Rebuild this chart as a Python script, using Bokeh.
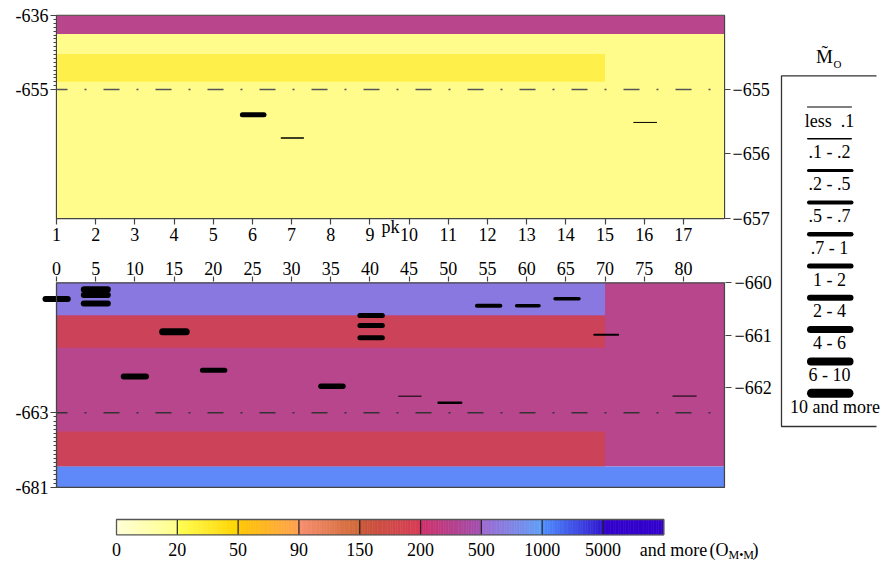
import numpy as np
from bokeh.plotting import figure
from bokeh.models import Range1d, LinearAxis, FixedTicker, Span
from bokeh.layouts import row, column
from bokeh.embed import file_html
from bokeh.resources import INLINE
from bokeh.core.properties import value

FONT = "Liberation Serif"
INK = "#444444"

# ---------------- upper section (chainage, pk) ----------------
pk_ticks = list(range(1, 18))
upper_x_end = 18.05
upper_left_ticks = [-653.85, -655.0]          # compressed part -636 .. -655
upper_left_labels = ["-636", "-655"]
upper_right_ticks = [-655.0, -656.0, -657.0]
upper_ref_level = -655.0

upper_band_x0 = [1.0, 1.0, 1.0]
upper_band_x1 = [18.05, 18.05, 15.0]
upper_band_top = [-653.85, -653.85, -654.445]
upper_band_bot = [-657.0, -654.134, -654.876]
upper_band_col = ["#FFFC8C", "#B9468C", "#FFEF4A"]

upper_bar_x0 = [5.68, 6.72, 15.72]
upper_bar_x1 = [6.36, 7.32, 16.33]
upper_bar_y = [-655.39, -655.75, -655.51]
upper_bar_w = [5.0, 1.5, 1.0]

# ---------------- lower section (distance 0..80) ----------------
lower_x_ticks = list(range(0, 85, 5))
lower_x_end = 85.25
lower_left_ticks = [-662.49, -663.92]         # compressed part -663 .. -681
lower_left_labels = ["-663", "-681"]
lower_right_ticks = [-660.0, -661.0, -662.0]
lower_ref_level = -662.49
lower_top, lower_bottom = -660.0, -663.92

lower_band_x0 = [0, 0, 0, 0, 0]
lower_band_x1 = [85.25, 70, 70, 70, 85.25]
lower_band_top = [-660.0, -660.0, -660.626, -662.85, -663.52]
lower_band_bot = [-663.52, -660.626, -661.245, -663.52, -663.92]
lower_band_col = ["#B8468C", "#8878E0", "#CC4258", "#CC4258", "#5F88F8"]

lower_bar_x0 = [-1.79, 3.1, 3.1, 3.1, 13.1, 8.2, 18.3, 33.4, 38.4, 38.4, 38.4,
                43.6, 48.6, 53.4, 58.5, 63.4, 68.5, 78.6]
lower_bar_x1 = [1.82, 6.93, 6.93, 6.93, 17.0, 11.8, 21.8, 36.9, 41.9, 41.9, 41.9,
                46.6, 51.8, 56.9, 61.8, 66.9, 71.8, 81.7]
lower_bar_y = [-660.31, -660.128, -660.234, -660.397, -660.939, -661.795, -661.674,
               -661.98, -660.626, -660.818, -661.054, -662.172, -662.30, -660.44,
               -660.44, -660.307, -660.996, -662.17]
lower_bar_w = [6, 6.5, 6, 6, 7, 6, 5, 5.5, 5, 5, 5, 1, 2.5, 4, 3.5, 3.5, 2, 1]

# ---------------- legend of line classes ----------------
legend_labels = ["less \u00a0.1", ".1 - .2", ".2 - .5", ".5 - .7", ".7 - 1",
                 "1 - 2", "2 - 4", "4 - 6", "6 - 10", "10 and more"]
legend_widths = [1, 1.5, 3, 4, 4.5, 5, 6, 7, 8, 9]

# ---------------- colour scale ----------------
cb_labels = ["0", "20", "50", "90", "150", "200", "500", "1000", "5000"]
cb_start = ["#FFFFD8", "#FFFF55", "#FFC800", "#F89070", "#C85838", "#D03068",
            "#A068D0", "#5090FF", "#3300CC"]
cb_end = ["#FFFF88", "#FFD400", "#FFA050", "#D06838", "#D83C58", "#A050B0",
          "#60A0F8", "#3018D0", "#3300CC"]

W_MAIN = 774


def base_fig(**kw):
    p = figure(output_backend="svg", toolbar_location=None, title=None, **kw)
    p.frame_align = False
    p.background_fill_color = "white"
    p.border_fill_color = "white"
    p.xgrid.visible = False
    p.ygrid.visible = False
    return p


def style_axis(ax, ticks, labels=None, minor=None, tick_out=6, standoff=2, line=True):
    ax.ticker = FixedTicker(ticks=ticks, minor_ticks=minor if minor is not None else [])
    if labels is not None:
        ax.major_label_overrides = {t: l for t, l in zip(ticks, labels)}
    ax.major_tick_out = tick_out
    ax.major_tick_in = 0
    ax.minor_tick_out = 3
    ax.minor_tick_in = 0
    ax.axis_line_color = INK if line else None
    ax.major_tick_line_color = INK
    ax.minor_tick_line_color = INK
    ax.major_tick_line_width = 1.2
    ax.major_label_text_font = FONT
    ax.major_label_text_font_size = "18px"
    ax.major_label_text_color = "black"
    ax.major_label_standoff = standoff


def hex2rgb(h):
    h = h.lstrip("#")
    return np.array([int(h[i:i + 2], 16) for i in (0, 2, 4)], dtype=float)


def rgb2hex(c):
    return "#%02x%02x%02x" % tuple(int(round(v)) for v in c)


def draw_bars(p, x0, x1, y, w, px_per_unit):
    cap = np.array(w, dtype=float) / 2 / px_per_unit
    p.segment(x0=list(np.array(x0) + cap), y0=y, x1=list(np.array(x1) - cap), y1=y,
              line_width=w, line_color="black", line_cap="round")


# ================= upper panel =================
TL, TR = 56, 50
top = base_fig(width=W_MAIN, height=248,
               x_range=Range1d(1, upper_x_end), y_range=Range1d(-657.003, -653.848),
               min_border_left=TL, min_border_right=TR, min_border_top=15, min_border_bottom=30)
top.outline_line_color = INK
top.outline_line_width = 1.3
top.quad(left=upper_band_x0, right=upper_band_x1, top=upper_band_top,
         bottom=upper_band_bot, fill_color=upper_band_col, line_color=None)
top.add_layout(Span(location=upper_ref_level, dimension="width", line_color="#555555",
                    line_width=1.5, line_dash="16 17 2 17", line_dash_offset=5))
draw_bars(top, upper_bar_x0, upper_bar_x1, upper_bar_y, upper_bar_w,
          (W_MAIN - TL - TR) / (upper_x_end - 1))

xa = top.xaxis[0]
style_axis(xa, pk_ticks, tick_out=6, standoff=3)
xa.axis_label = "pk"
xa.axis_label_text_font = FONT
xa.axis_label_text_font_size = "18px"
xa.axis_label_text_font_style = "normal"
xa.axis_label_text_color = "black"
xa.axis_label_standoff = -27
top_minor = list(np.linspace(upper_left_ticks[0], upper_left_ticks[1], 20)[1:-1])
style_axis(top.yaxis[0], upper_left_ticks, upper_left_labels, minor=top_minor)
ra = LinearAxis()
style_axis(ra, upper_right_ticks)
top.add_layout(ra, "right")

# ================= lower panel =================
# frame runs from page x=8 so that the bar at distance 0 may stick out past the axis
BLB, BRB = 8, 49
px_unit = 7.836
px_m = 52.2
x_lo = -(56 - BLB) / px_unit
x_hi = (W_MAIN - BRB - 56) / px_unit
bot = base_fig(width=W_MAIN, height=252,
               x_range=Range1d(x_lo, x_hi),
               y_range=Range1d(lower_top - (498 - 282.3) / px_m, lower_top + 1.3 / px_m),
               x_axis_location="above",
               min_border_left=BLB, min_border_right=BRB, min_border_top=33, min_border_bottom=2)
bot.outline_line_color = None
bot.quad(left=lower_band_x0, right=lower_band_x1, top=lower_band_top,
         bottom=lower_band_bot, fill_color=lower_band_col, line_color=None)
bot.segment(x0=[0], x1=[lower_x_end], y0=[lower_ref_level], y1=[lower_ref_level],
            line_color="#333333", line_width=1.5, line_dash="16 17 2 17", line_dash_offset=5)
draw_bars(bot, lower_bar_x0, lower_bar_x1, lower_bar_y, lower_bar_w, px_unit)
bot.quad(left=[0], right=[lower_x_end], top=[lower_top], bottom=[lower_bottom],
         fill_color=None, line_color=INK, line_width=1.3)

style_axis(bot.xaxis[0], lower_x_ticks, tick_out=5, standoff=2, line=False)
bot_minor = list(np.linspace(lower_left_ticks[0], lower_left_ticks[1], 19)[1:-1])
ly_ax = bot.yaxis[0]
style_axis(ly_ax, lower_left_ticks, lower_left_labels, minor=bot_minor, line=False)
ly_ax.fixed_location = 0
ra2 = LinearAxis()
style_axis(ra2, lower_right_ticks, standoff=3, line=False)
bot.add_layout(ra2, "right")

# ================= colour scale =================
seg_px = 60.81
cb_x0 = 116
cb = base_fig(width=W_MAIN, height=64,
              x_range=Range1d(-cb_x0 / seg_px, (W_MAIN - cb_x0) / seg_px),
              y_range=Range1d(564, 500), x_axis_location=None, y_axis_location=None,
              min_border=0)
cb.outline_line_color = None
n_sub = 24
ql, qr, qc = [], [], []
for i, (c0, c1) in enumerate(zip(cb_start, cb_end)):
    a, b = hex2rgb(c0), hex2rgb(c1)
    for k in range(n_sub):
        t = (k + 0.5) / n_sub
        ql.append(i + k / n_sub)
        qr.append(i + (k + 1) / n_sub)
        qc.append(rgb2hex(a + (b - a) * t))
cb.quad(left=ql, right=qr, top=519, bottom=534.3, fill_color=qc, line_color=qc, line_width=0.6)
n_seg = len(cb_start)
cb.segment(x0=list(range(1, n_seg)), x1=list(range(1, n_seg)), y0=519, y1=534.3,
           line_color="#222222", line_width=1.2)
cb.quad(left=0, right=n_seg, top=519, bottom=534.3, fill_color=None,
        line_color="#555555", line_width=1.3)
cb.text(x=list(range(len(cb_labels))), y=549, text=cb_labels, text_font=value(FONT),
        text_font_size="18px", text_align="center", text_baseline="middle", text_color="black")
unit_parts = ["and more", "(O", "M\u2022M", ")"]
unit_px = [639.3, 709.0, 728.0, 752.0]
unit_size = ["18px", "18px", "12px", "18px"]
unit_y = [549, 549, 554, 549]
for t, px, fs, yy in zip(unit_parts, unit_px, unit_size, unit_y):
    cb.text(x=[(px - cb_x0) / seg_px], y=yy, text=[t], text_font=value(FONT),
            text_font_size=fs, text_align="left", text_baseline="middle", text_color="black")

# ================= legend =================
leg = base_fig(width=108, height=564, x_range=Range1d(774, 882), y_range=Range1d(564, 0),
               x_axis_location=None, y_axis_location=None, min_border=0)
leg.outline_line_color = None
leg.line(x=[876, 781, 781, 876], y=[75.3, 75.3, 426, 426], line_color="#333333", line_width=1.3)
leg.text(x=[824], y=[56], text=["M\u0303"], text_font=value(FONT), text_font_size="19px",
         text_align="center", text_baseline="middle", text_color="black")
leg.text(x=[833], y=[63], text=["O"], text_font=value(FONT), text_font_size="11px",
         text_align="left", text_baseline="middle", text_color="black")
idx = np.arange(len(legend_labels))
ly = 106.5 + 31.8 * idx
lw = np.array(legend_widths, dtype=float)
leg.segment(x0=list(806.5 + lw / 2), x1=list(851.5 - lw / 2 + 1.5 * (lw > 2)),
            y0=list(ly), y1=list(ly), line_width=list(lw), line_color="black",
            line_cap="round")
text_x = [829.0] * (len(legend_labels) - 1) + [834.5]
leg.text(x=text_x, y=list(ly + 13.5), text=legend_labels,
         text_font=value(FONT), text_font_size="18px", text_align="center",
         text_baseline="middle", text_color="black")

layout = row(column(top, bot, cb), leg)
open("out.html", "w").write(file_html(layout, INLINE))
